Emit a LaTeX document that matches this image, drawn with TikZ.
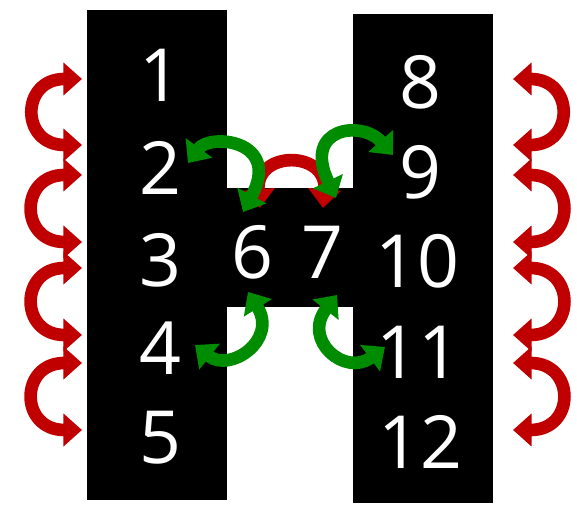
\documentclass[tikz,border=0pt]{standalone}
\usepackage{fontspec}
\setmainfont{Open Sans}
\usetikzlibrary{arrows.meta}

\definecolor{swapred}{HTML}{C00000}
\definecolor{swapgreen}{HTML}{008C00}

\begin{document}
\begin{tikzpicture}[x=0.75pt, y=0.75pt,
    digit/.style={text=white, font=\fontsize{55}{55}\selectfont, inner sep=0pt},
    block/.style={fill=black},
    swap/.style={line width=9.5pt, {Triangle[length=14pt,width=24pt]}-{Triangle[length=14pt,width=24pt]}},
    redswap/.style={swap, draw=swapred},
    greenswap/.style={swap, draw=swapgreen}
]
\useasboundingbox (0,0) rectangle (577,505);

% the two columns and the bridge
\fill[block] (87,5) rectangle (227,495);
\fill[block] (353,2) rectangle (493,491);
\fill[block] (226,198) rectangle (354,317);

% numbers
\node[digit] (n1) at (160,430) {1};
\node[digit] (n2) at (160,337) {2};
\node[digit] (n3) at (160,245) {3};
\node[digit] (n4) at (160,157) {4};
\node[digit] (n5) at (160,67) {5};
\node[digit] (n6) at (252,253) {6};
\node[digit] (n7) at (322,253) {7};
\node[digit] (n8) at (420,423) {8};
\node[digit] (n9) at (420,333) {9};
\node[digit] (n10) at (417,244) {10};
\node[digit] (n11) at (418,153) {11};
\node[digit] (n12) at (420,63) {12};

% outer swaps
\foreach \i/\ya/\yb in {1/426/360, 2/330/263, 3/237/170, 4/142/75} {
    \coordinate (l\i a) at (82,\ya);
    \coordinate (l\i b) at (82,\yb);
    \coordinate (r\i a) at (513,\ya);
    \coordinate (r\i b) at (513,\yb);
    \draw[redswap] (l\i a) to[out=180, in=180, looseness=2.4] (l\i b);
    \draw[redswap] (r\i a) to[out=0, in=0, looseness=2.4] (r\i b);
}

% inner swaps
\coordinate (g2) at (188,342);
\coordinate (g6t) at (243,293);
\coordinate (r6) at (260,297);
\coordinate (r7) at (323,297);
\coordinate (g7t) at (336,307);
\coordinate (g9) at (393,350);
\coordinate (g6b) at (248,213);
\coordinate (g4) at (195,160);
\coordinate (g7b) at (337,210);
\coordinate (g11) at (385,158);

\draw[redswap] (r6) .. controls (255,355) and (328,355) .. (r7);
\draw[greenswap] (g2) .. controls (210,372) and (282,365) .. (g6t);
\draw[greenswap] (g7t) .. controls (302,378) and (362,385) .. (g9);
\draw[greenswap] (g6b) .. controls (278,165) and (230,132) .. (g4);
\draw[greenswap] (g7b) .. controls (302,165) and (345,128) .. (g11);
\end{tikzpicture}
\end{document}
